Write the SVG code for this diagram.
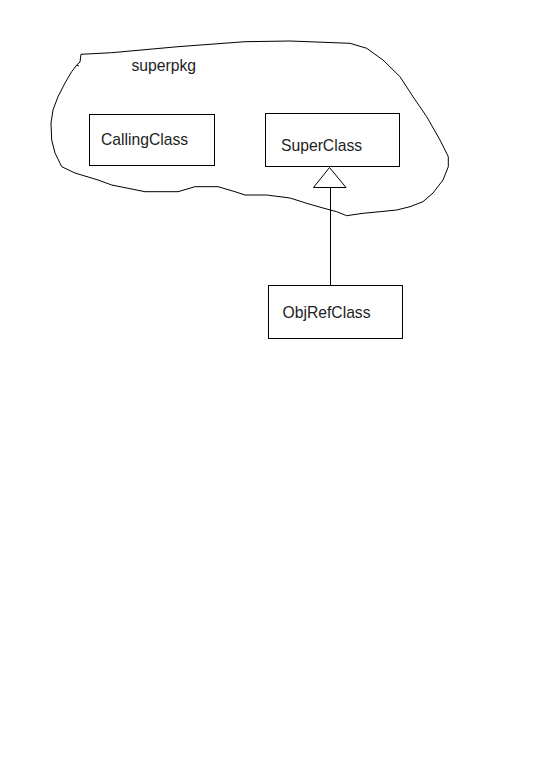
<svg xmlns="http://www.w3.org/2000/svg" width="540" height="771" viewBox="0 0 540 771">
<style>
.box{fill:#fff;stroke:#000;stroke-width:1}
.lbl{font-family:"Liberation Sans",Arial,sans-serif;font-size:15.7px;fill:#222}
.ln{fill:none;stroke:#000;stroke-width:1}
</style>
<rect width="540" height="771" fill="#fff"/>
<g id="superpkg">
<path class="ln" d="M81,54.3 L111.7,52.7 L178,46.7 L245,41.7 L290,41 L350,43.3 L366.7,48.3 L383,60 L400,76.7 L413,96.7 L426.7,116.7 L440,140 L448.3,156.7 L448.3,166.7 L443,180 L433,193 L423,201.7 L410,206.7 L396.7,210 L380,211.7 L363,213.3 L346.7,215.7 L336.7,211.7 L323,208 L306.7,203.3 L290,198 L266.7,195 L245,195 L235,191.7 L218,186.7 L195,186.7 L178,191.7 L145,191.7 L111.7,185 L98,180 L75,173 L61.7,166.7 L55,153 L51.7,140 L51,123 L53,110 L58,96.7 L65,83 L71.7,71.7 L76.7,65 L80,62 M76.7,65 L79,66 M81,54.3 L80,62"/>
<text class="lbl" x="131.5" y="70.5">superpkg</text>
</g>
<g id="CallingClass">
<rect class="box" x="89.5" y="114.5" width="125" height="51"/>
<text class="lbl" x="101" y="145">CallingClass</text>
</g>
<g id="SuperClass">
<rect class="box" x="265.5" y="113.5" width="134" height="53"/>
<text class="lbl" x="281" y="150.5">SuperClass</text>
</g>
<g id="ObjRefClass">
<rect class="box" x="268.5" y="285.5" width="134" height="53"/>
<text class="lbl" x="282.5" y="317.5">ObjRefClass</text>
</g>
<g id="connectors">
<line class="ln" x1="330.5" y1="187.5" x2="330.5" y2="285.5"/>
<polygon class="ln" fill="#fff" points="329.5,167.5 313.5,187.5 346,187.5"/>
</g>
</svg>
